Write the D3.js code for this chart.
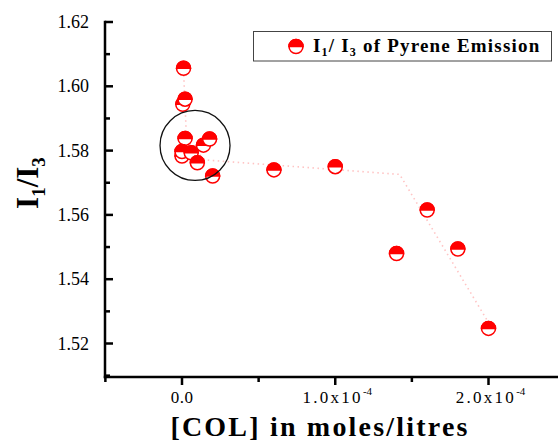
<!DOCTYPE html>
<html><head><meta charset="utf-8">
<script src="https://cdn.jsdelivr.net/npm/d3@7"></script>
<style>html,body{margin:0;padding:0;background:#fff}svg{display:block}</style>
</head><body>
<svg id="c" width="558" height="445"></svg>
<script>
// Data
const concentration = [0.5e-6, 1e-6, 2e-6, 1.4e-5, 1.8e-5, 2e-6, 0, 0, 6e-6, 1e-5, 2e-5, 6e-5, 1e-4, 1.4e-4, 1.6e-4, 1.8e-4, 2e-4];
const ratio =         [1.5944, 1.6056, 1.5960, 1.5817, 1.5836, 1.5838, 1.5783, 1.5797, 1.5793, 1.5762, 1.5721, 1.5740, 1.5750, 1.5480, 1.5615, 1.5494, 1.5247];
// dotted guide line (trend) vertices
const trendX = [1e-6, 3e-6, 1.5e-5, 1.42e-4, 1.99e-4];
const trendY = [1.6050, 1.5830, 1.5771, 1.5726, 1.5273];
// annotation circle (data-space centre)
const ringX = [0.85e-5], ringY = [1.5816];
const yTicks = [1.52, 1.54, 1.56, 1.58, 1.60, 1.62];
const yMinor = [1.51, 1.53, 1.55, 1.57, 1.59, 1.61];
const xTicks = [0, 1e-4, 2e-4];
const xTickLabels = ["0.0", "1.0x10", "2.0x10"];
const xMinor = [-0.5e-4, 0.5e-4, 1.5e-4, 2.5e-4];

const svg = d3.select("#c");
const x = d3.scaleLinear().domain([0, 2e-4]).range([182, 488.5]);
const y = d3.scaleLinear().domain([1.52, 1.62]).range([343.5, 22]);
const axL = x(-0.5e-4), axB = 377, axT = y(1.62);
const red = "#ff0000";
const serif = "'Liberation Serif', 'DejaVu Serif', serif";

// trend line
svg.append("path")
  .datum(trendX.map((d, i) => [d, trendY[i]]))
  .attr("d", d3.line().x(d => x(d[0])).y(d => y(d[1])))
  .attr("fill", "none").attr("stroke", "#ffc4c4").attr("stroke-width", 1.6)
  .attr("stroke-dasharray", "1.5,3.5");

// markers: top half filled, bottom half white
const r = 7;
const topArc = `M${-r},0 A${r},${r} 0 0 1 ${r},0 Z`;
const g = svg.append("g");
const pts = g.selectAll("g.pt").data(concentration.map((c, i) => [c, ratio[i]])).join("g")
  .attr("class", "pt")
  .attr("transform", d => `translate(${x(d[0])},${y(d[1])})`);
pts.append("circle").attr("r", r).attr("fill", "#fff").attr("stroke", red).attr("stroke-width", 1.5);
pts.append("path").attr("d", topArc).attr("fill", red).attr("stroke", red).attr("stroke-width", 1.5);

// annotation circle
svg.append("circle").attr("cx", x(ringX[0])).attr("cy", y(ringY[0])).attr("r", 35)
  .attr("fill", "none").attr("stroke", "#111").attr("stroke-width", 1.3);

// axes
const ax = svg.append("g");
const ln = (x1, y1, x2, y2) => ax.append("line").attr("x1", x1).attr("y1", y1).attr("x2", x2).attr("y2", y2)
  .attr("stroke", "#000").attr("stroke-width", 2.5);
const L = Math.round(axL);
ln(L, axT - 1.2, L, axB + 1.2);
ln(L - 1.2, axB, 558, axB);
yTicks.forEach(v => ln(L, y(v), L + 8, y(v)));
yMinor.forEach(v => ln(L, y(v), L + 5, y(v)));
xTicks.forEach(v => ln(x(v), axB, x(v), axB + 8));
xMinor.forEach(v => ln(x(v), axB, x(v), axB + 5));

// tick labels
svg.append("g").selectAll("text").data(yTicks).join("text")
  .attr("x", 89).attr("y", d => y(d) + 6)
  .attr("text-anchor", "end").attr("font-family", serif).attr("font-size", 18)
  .text(d => d.toFixed(2));
const xl = svg.append("g").selectAll("text").data(xTicks).join("text")
  .attr("x", d => x(d) + (d === 0 ? 0 : 2)).attr("y", 403)
  .attr("text-anchor", "middle").attr("font-family", serif).attr("font-size", 17);
xl.append("tspan").attr("letter-spacing", (d) => d === 0 ? 0.5 : 2.3).text((d, i) => xTickLabels[i]);
xl.filter(d => d !== 0).append("tspan").attr("dy", -8).attr("font-size", 11).text("-4");

// axis titles
svg.append("text").attr("x", 320).attr("y", 436).attr("text-anchor", "middle")
  .attr("font-family", serif).attr("font-weight", "bold").attr("font-size", 28).attr("letter-spacing", 2.2)
  .text("[COL] in moles/litres");
const yt = svg.append("text").attr("transform", "translate(38,183) rotate(-90)")
  .attr("text-anchor", "middle").attr("font-family", serif).attr("font-weight", "bold").attr("font-size", 31);
yt.append("tspan").text("I");
yt.append("tspan").attr("dy", 7).attr("font-size", 19).text("1");
yt.append("tspan").attr("dy", -7).text("/I");
yt.append("tspan").attr("dy", 7).attr("font-size", 19).text("3");

// legend
svg.append("rect").attr("x", 253.5).attr("y", 31.5).attr("width", 298).attr("height", 29.5)
  .attr("fill", "#fff").attr("stroke", "#444").attr("stroke-width", 1);
const lg = svg.append("g").attr("transform", "translate(296,46.5)");
lg.append("circle").attr("r", r).attr("fill", "#fff").attr("stroke", red).attr("stroke-width", 1.5);
lg.append("path").attr("d", topArc).attr("fill", red).attr("stroke", red).attr("stroke-width", 1.5);
const lt = svg.append("text").attr("x", 313).attr("y", 52).attr("font-family", serif)
  .attr("font-weight", "bold").attr("font-size", 19).attr("letter-spacing", 1.2);
lt.append("tspan").text("I");
lt.append("tspan").attr("dy", 4).attr("font-size", 12).text("1");
lt.append("tspan").attr("dy", -4).text("/ I");
lt.append("tspan").attr("dy", 4).attr("font-size", 12).text("3");
lt.append("tspan").attr("dy", -4).text(" of Pyrene Emission");
</script>
</body></html>
